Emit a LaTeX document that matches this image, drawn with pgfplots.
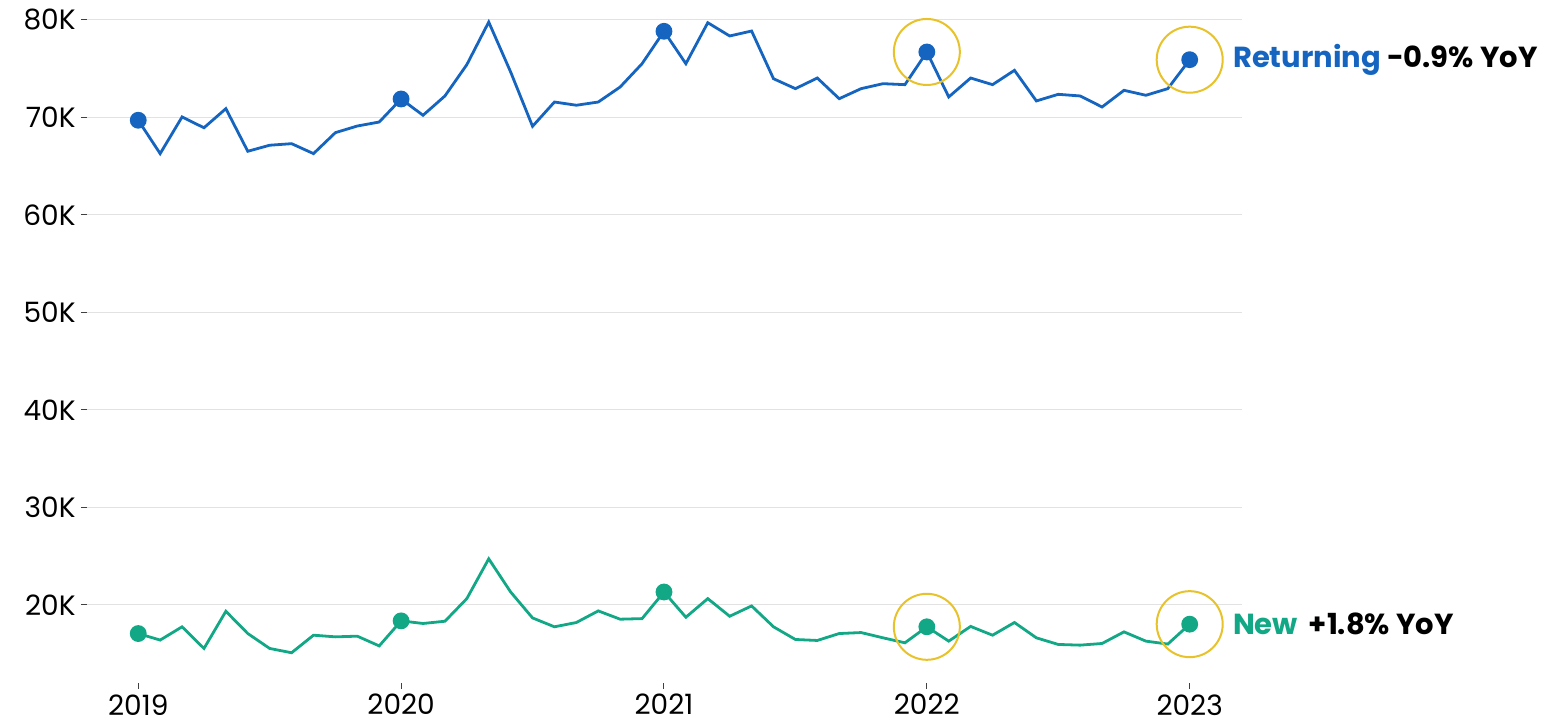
\documentclass[border=0pt]{standalone}
\usepackage{pgfplots}
\pgfplotsset{compat=1.18}
\usepackage{fontspec}
\setmainfont{Poppins}
\definecolor{retblue}{HTML}{1565C0}
\definecolor{newgreen}{HTML}{12A886}
\definecolor{gold}{HTML}{E8C22A}
\definecolor{gridgray}{HTML}{E2E2E2}
\begin{document}
\begin{tikzpicture}
\begin{axis}[
  scale only axis,
  width=577.3pt, height=331.65pt,
  xmin=-2.34, xmax=50.37,
  ymin=12000, ymax=80000,
  axis line style={draw=none},
  xtick={0,12,24,36,48},
  xticklabels={2019,2020,2021,2022,2023},
  ytick={20000,30000,40000,50000,60000,70000,80000},
  yticklabels={20K,30K,40K,50K,60K,70K,80K},
  ymajorgrids, grid style={gridgray, line width=0.5pt},
  tick align=outside,
  major tick length=3pt,
  tick style={black!75, line width=0.5pt},
  xtick pos=bottom, ytick pos=left,
  tick label style={font=\fontsize{14}{16}\selectfont, text=black},
  yticklabel style={inner sep=2.5pt},
  xticklabel style={inner sep=2.5pt},
  /pgf/number format/assume math mode=true,
  clip=false,
]
\addplot[retblue, line width=1.4pt, mark=*, mark size=3.5pt, mark indices={1,13,25,37,49}, mark options={fill=retblue, draw=retblue}] coordinates {
(0,69690) (1,66270) (2,70030) (3,68920) (4,70880) (5,66510) (6,67130) (7,67290)
(8,66270) (9,68420) (10,69100) (11,69510) (12,71870) (13,70200) (14,72180) (15,75390)
(16,79760) (17,74640) (18,69070) (19,71560) (20,71230) (21,71560) (22,73100) (23,75490)
(24,78810) (25,75490) (26,79690) (27,78330) (28,78840) (29,73950) (30,72930) (31,74020)
(32,71900) (33,72930) (34,73440) (35,73340) (36,76690) (37,72080) (38,74020) (39,73340)
(40,74810) (41,71670) (42,72350) (43,72180) (44,71050) (45,72760) (46,72250) (47,72930)
(48,75900)};
\addplot[newgreen, line width=1.4pt, mark=*, mark size=3.5pt, mark indices={1,13,25,37,49}, mark options={fill=newgreen, draw=newgreen}] coordinates {
(0,17070) (1,16400) (2,17760) (3,15540) (4,19350) (5,17070) (6,15540) (7,15100)
(8,16900) (9,16730) (10,16800) (11,15800) (12,18370) (13,18100) (14,18330) (15,20650)
(16,24730) (17,21330) (18,18670) (19,17760) (20,18200) (21,19390) (22,18540) (23,18600)
(24,21330) (25,18740) (26,20650) (27,18840) (28,19900) (29,17760) (30,16460) (31,16360)
(32,17070) (33,17170) (34,16630) (35,16120) (36,17760) (37,16290) (38,17800) (39,16900)
(40,18200) (41,16630) (42,15950) (43,15880) (44,16050) (45,17240) (46,16290) (47,15990)
(48,18030)};
\addplot[only marks, mark=o, mark size=16.5pt, mark options={draw=gold, line width=1pt}] coordinates {
(36,76690) (48,75900) (36,17760) (48,18030)};
\node[anchor=west, font=\fontsize{14.5}{17}\selectfont\bfseries, inner sep=0pt] at (axis cs:48,75900) [xshift=21.5pt] {\textcolor{retblue}{Returning} -0.9\% YoY};
\node[anchor=west, font=\fontsize{14.5}{17}\selectfont\bfseries, inner sep=0pt] at (axis cs:48,18030) [xshift=21.5pt] {\textcolor{newgreen}{New}\, +1.8\% YoY};
\end{axis}
\pgfresetboundingbox
\path (-43.5pt,-21.5pt) rectangle (730.5pt,341.5pt);
\end{tikzpicture}
\end{document}
